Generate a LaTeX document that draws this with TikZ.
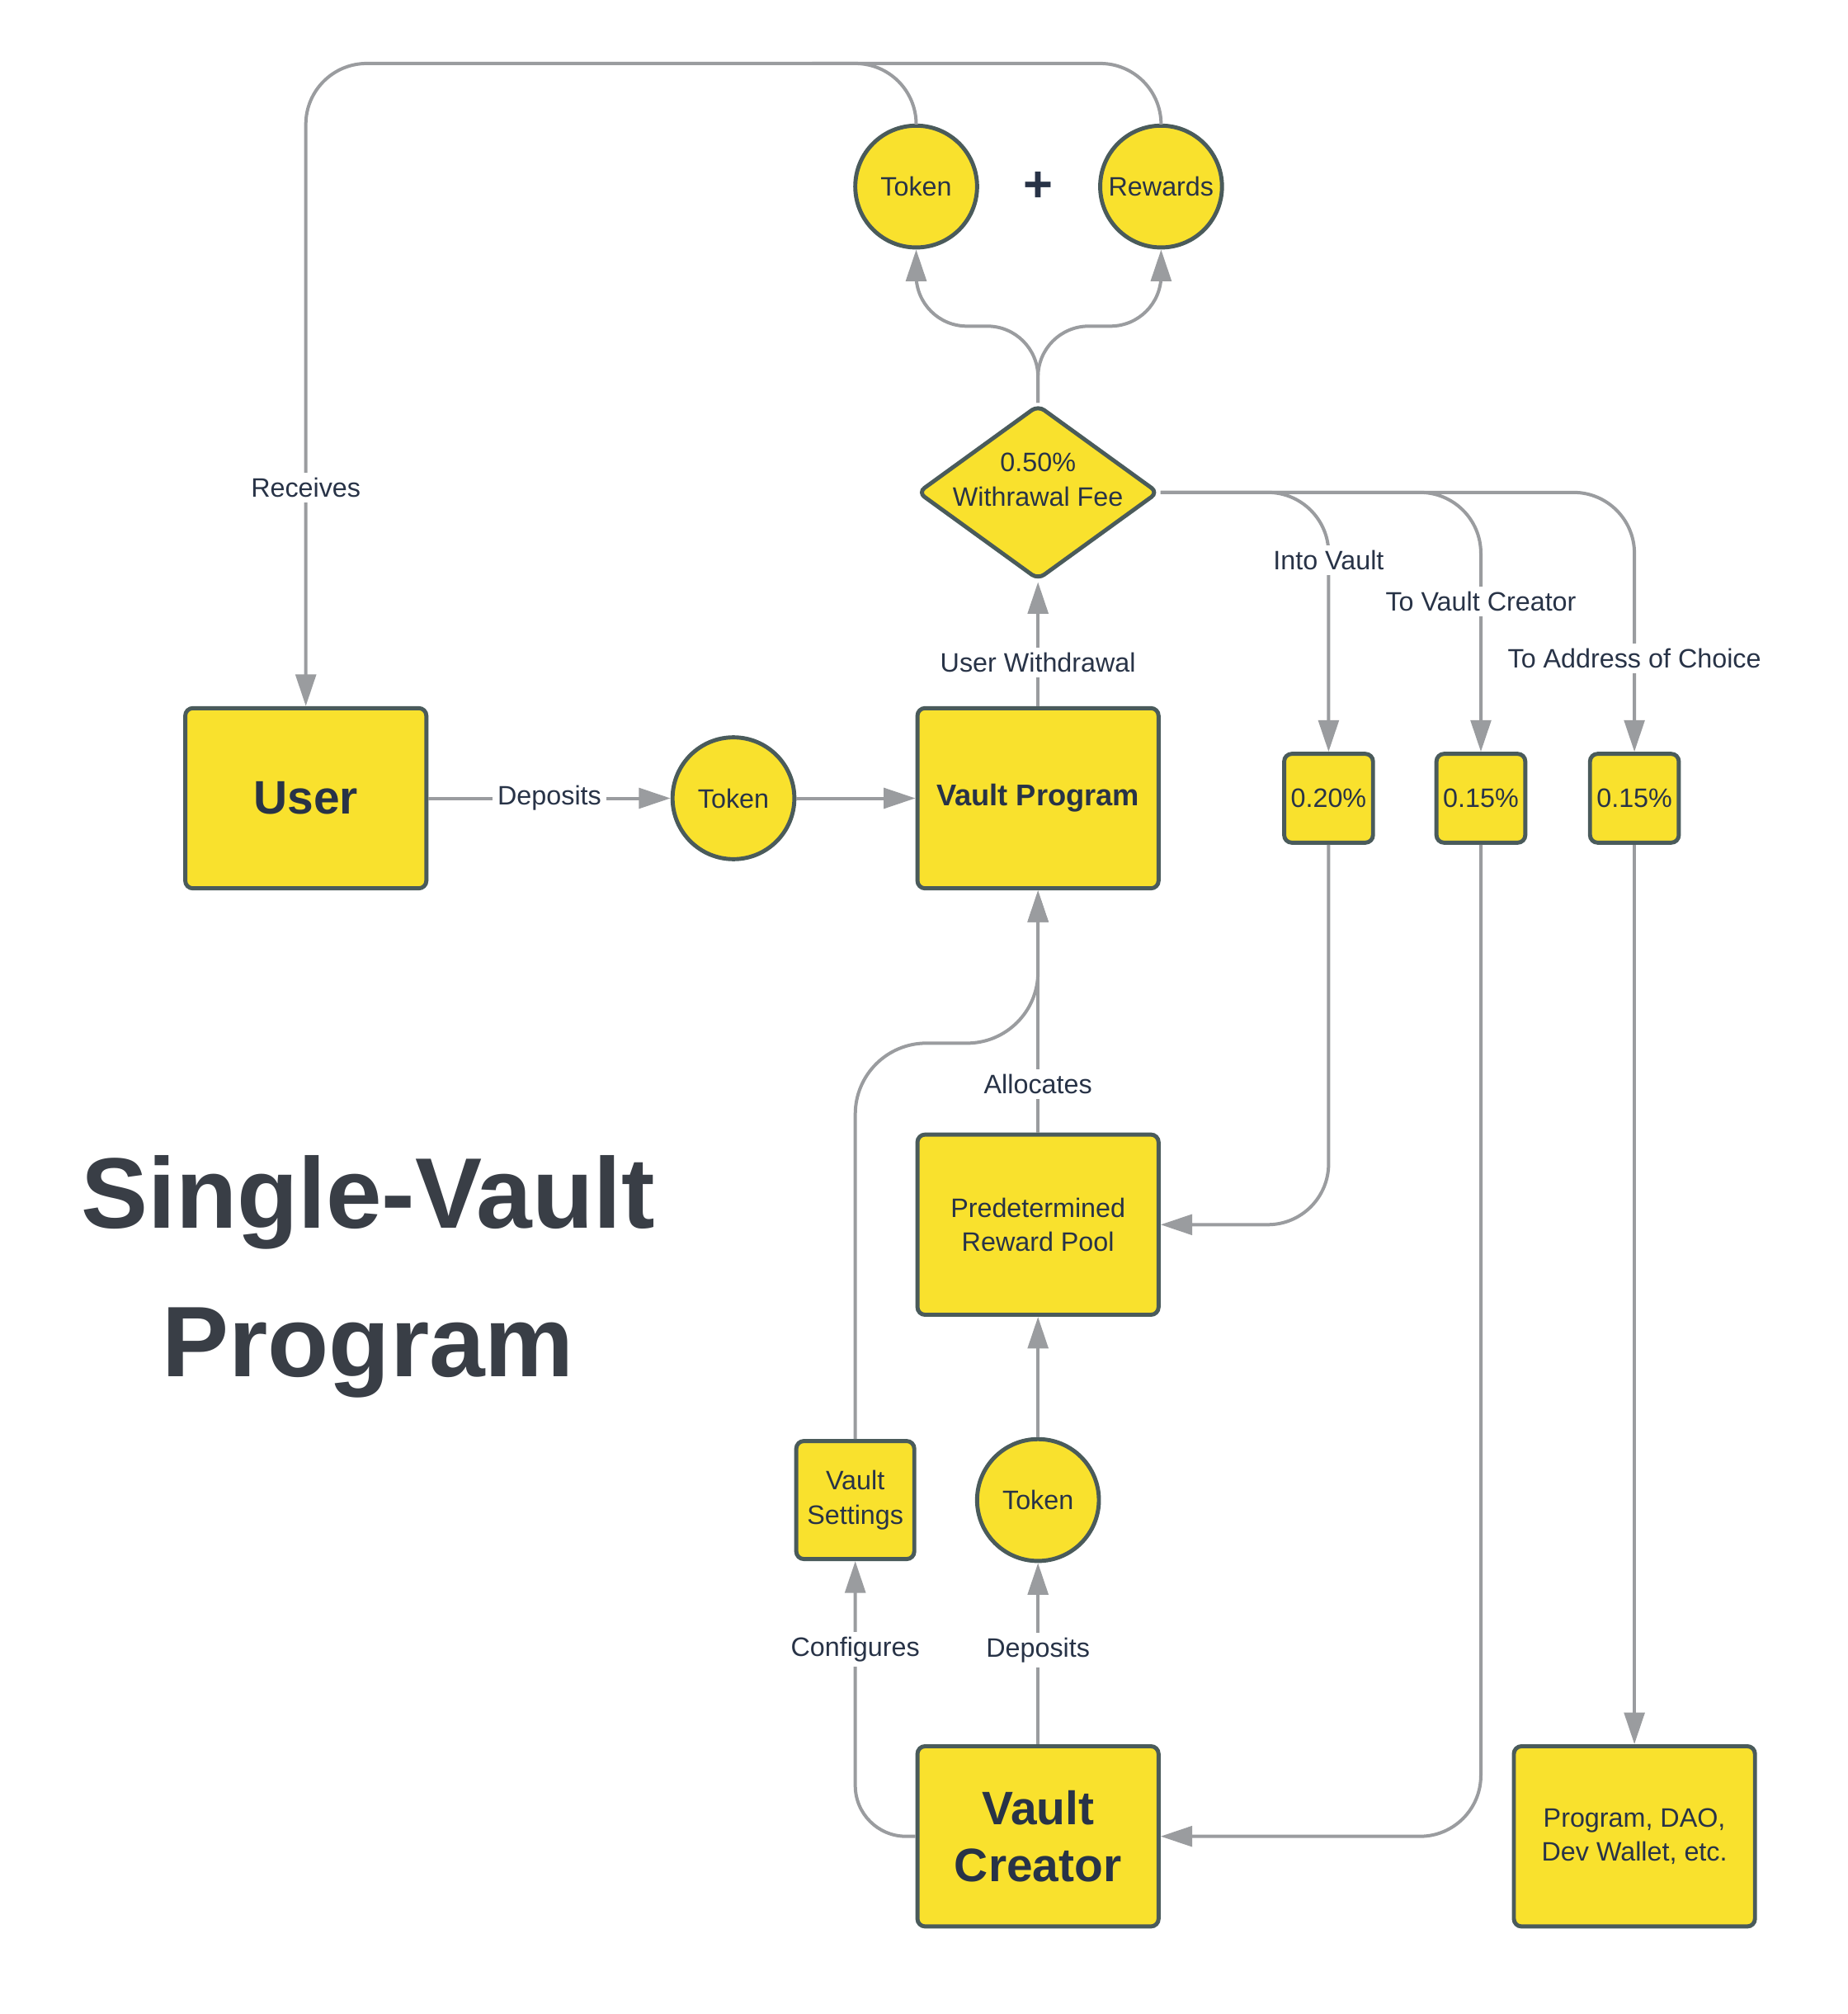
\documentclass[tikz,border=0pt]{standalone}
\usepackage{fontspec}
\setmainfont{Liberation Sans}
\usetikzlibrary{arrows.meta,shapes.geometric,calc}
\definecolor{vyellow}{HTML}{F9E12D}
\definecolor{vborder}{HTML}{4A5B5B}
\definecolor{vgray}{HTML}{9A9C9F}
\definecolor{vtext}{HTML}{283347}
\definecolor{vtitle}{HTML}{393E46}
\newcommand{\vlfont}{\fontsize{10.5}{13.5}\selectfont}
\tikzset{
    blk/.style={
        rectangle,
        rounded corners=3pt,
        draw=vborder,
        line width=1.6pt,
        fill=vyellow,
        text=vtext,
        align=center,
        inner sep=0pt,
        minimum width=95pt,
        minimum height=71pt,
        font=\vlfont,
    },
    big/.style={
        blk,
        font=\fontsize{18.5}{22.5}\selectfont\bfseries,
    },
    pct/.style={
        blk,
        minimum width=35pt,
        minimum height=35pt,
    },
    tok/.style={
        circle,
        draw=vborder,
        line width=1.6pt,
        fill=vyellow,
        text=vtext,
        inner sep=0pt,
        minimum size=48pt,
        font=\vlfont,
    },
    feebox/.style={
        diamond,
        rounded corners=3pt,
        draw=vborder,
        line width=1.6pt,
        fill=vyellow,
        inner sep=0pt,
        minimum width=95pt,
        minimum height=69pt,
    },
    lbl/.style={
        fill=white,
        text=vtext,
        font=\vlfont,
        inner sep=2pt,
        rounded corners=0pt,
    },
    conn/.style={
        draw=vgray,
        line width=1.3pt,
        -{Triangle[length=12.5pt,width=8pt]},
        rounded corners=24pt,
    },
}

\begin{document}
\begin{tikzpicture}[x=0.5pt,y=-0.5pt]
    \fill[white] (0,0) rectangle (1456,1587);
    \useasboundingbox (0,0) rectangle (1456,1587);

    % title
    \node[text=vtitle, align=center, font=\fontsize{39.5}{58.5}\selectfont\bfseries] (title) at (290,1006) {Single-Vault\\Program};

    % nodes
    \node [big] (user) at (241,629) {User};
    \node [tok] (tokU) at (578,629) {Token};
    \node [blk, font=\fontsize{11.8}{14}\selectfont\bfseries] (vprog) at (818,629) {Vault Program};
    \node [feebox, label={[text=vtext, align=center, font=\vlfont, yshift=5pt]center:0.50\%\\Withrawal Fee}] (fee) at (818,388) {};
    \node [tok] (tokW) at (722,147) {Token};
    \node [tok] (rewW) at (915,147) {Rewards};
    \node [text=vtext, font=\fontsize{20}{24}\selectfont\bfseries] (plus) at (818,147) {+};
    \node [pct] (p20) at (1047,629) {0.20\%};
    \node [pct] (p15c) at (1167,629) {0.15\%};
    \node [pct] (p15a) at (1288,629) {0.15\%};
    \node [blk] (pool) at (818,965) {Predetermined\\Reward Pool};
    \node [pct, minimum width=46.5pt, minimum height=46.5pt] (vset) at (674,1182) {Vault\\Settings};
    \node [tok] (tokC) at (818,1182) {Token};
    \node [big] (creator) at (818,1447) {Vault\\Creator};
    \node [blk] (dao) at (1288,1447) {Program, DAO,\\Dev Wallet, etc.};

    % withdrawal back to the user
    \coordinate (topjoin) at (640,50);
    \draw[conn] (rewW.north) -- (rewW.north |- 0,50) -- (user.north |- 0,50) -- node[lbl,pos=0.66] {Receives} (user.north);
    \draw[conn,-] (tokW.north) -- (tokW.north |- 0,50) -- (topjoin);

    % fee
    \draw[conn,rounded corners=20pt] (fee.north) |- (tokW.south |- 0,257) -- (tokW.south);
    \draw[conn,rounded corners=20pt] (fee.north) |- (rewW.south |- 0,257) -- (rewW.south);
    \draw[conn] (fee.east) -| node[lbl,pos=0.63] {Into Vault} (p20.north);
    \draw[conn] (fee.east) -| node[lbl,pos=0.71] {To Vault Creator} (p15c.north);
    \draw[conn] (fee.east) -| node[lbl,pos=0.82] {To Address of Choice} (p15a.north);
    \draw[conn] (p20.south) |- (pool.east);
    \draw[conn] (p15c.south) |- (creator.east);
    \draw[conn] (p15a.south) -- (dao.north);

    % user side
    \draw[conn] (user.east) -- node[lbl] {Deposits} (tokU.west);
    \draw[conn] (tokU.east) -- (vprog.west);
    \draw[conn] (vprog.north) -- node[lbl,pos=0.35] {User Withdrawal} (fee.south);

    % creator side
    \draw[conn] (pool.north) -- node[lbl,pos=0.2] {Allocates} (vprog.south);
    \draw[conn,rounded corners=28pt] (vset.north) |- (vprog.south |- 0,822) -- (vprog.south);
    \draw[conn] (tokC.north) -- (pool.south);
    \draw[conn] (creator.north) -- node[lbl,pos=0.52] {Deposits} (tokC.south);
    \draw[conn,rounded corners=20pt] (creator.west) -| node[lbl,pos=0.84] {Configures} (vset.south);
\end{tikzpicture}
\end{document}
